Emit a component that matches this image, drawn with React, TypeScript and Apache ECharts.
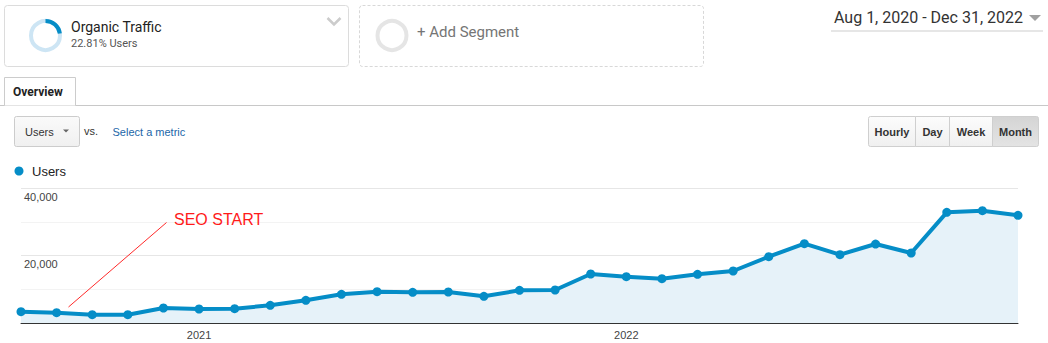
import React, { useEffect, useRef } from "react";
import * as echarts from "echarts";

const months = [
  "2020-08", "2020-09", "2020-10", "2020-11", "2020-12",
  "2021-01", "2021-02", "2021-03", "2021-04", "2021-05", "2021-06",
  "2021-07", "2021-08", "2021-09", "2021-10", "2021-11", "2021-12",
  "2022-01", "2022-02", "2022-03", "2022-04", "2022-05", "2022-06",
  "2022-07", "2022-08", "2022-09", "2022-10", "2022-11", "2022-12",
];
const users = [
  3350, 3050, 2460, 2460, 4440, 4150, 4250, 5240, 6720, 8490, 9280,
  9090, 9190, 7900, 9680, 9780, 14520, 13730, 13140, 14420, 15410,
  19650, 23500, 20250, 23400, 20740, 32790, 33280, 31900,
];
const yTickLabels = [20000, 40000];
const segmentName = "Organic Traffic";
const segmentShare = 22.81;
const dateRange = "Aug 1, 2020 - Dec 31, 2022";
const granularities = ["Hourly", "Day", "Week", "Month"];

const ARIAL = "'Liberation Sans', Arial, sans-serif";
const ROBOTO = "Roboto, 'Liberation Sans', Arial, sans-serif";

export default function App() {
  const ref = useRef<HTMLDivElement>(null);
  useEffect(() => {
    if (!ref.current) return;
    const chart = echarts.init(ref.current, null, { renderer: "svg" });
    const btnEdges = [868, 915, 949, 992, 1038];
    const buttons: any[] = [];
    granularities.forEach((g, i) => {
      const x0 = btnEdges[i];
      const x1 = btnEdges[i + 1];
      const active = i === granularities.length - 1;
      buttons.push({
        type: "rect",
        shape: { x: x0 + 0.5, y: 116.5, width: x1 - x0, height: 30, r: i === 0 ? [2, 0, 0, 2] : i === granularities.length - 1 ? [0, 2, 2, 0] : 0 },
        style: {
          fill: active
            ? new echarts.graphic.LinearGradient(0, 0, 0, 1, [
                { offset: 0, color: "#d4d4d4" },
                { offset: 1, color: "#e4e4e4" },
              ])
            : new echarts.graphic.LinearGradient(0, 0, 0, 1, [
                { offset: 0, color: "#fcfcfc" },
                { offset: 1, color: "#f0f0f0" },
              ]),
          stroke: "#cfcfcf",
          lineWidth: 1,
        },
      });
      buttons.push({
        type: "text",
        style: {
          x: (x0 + x1) / 2 + 0.5,
          y: 131.5,
          text: g,
          fill: "#333",
          font: `bold 11px ${ARIAL}`,
          align: "center",
          verticalAlign: "middle",
        },
      });
    });

    chart.setOption({
      animation: false,
      textStyle: { fontFamily: ARIAL },
      grid: { left: 21, right: 30, top: 188, bottom: 20, containLabel: false },
      xAxis: {
        type: "category",
        data: months,
        boundaryGap: false,
        axisLine: { lineStyle: { color: "#333", width: 1 } },
        axisTick: { show: false },
        axisLabel: {
          interval: 0,
          margin: 6,
          color: "#444",
          fontSize: 11,
          fontFamily: ARIAL,
          formatter: (v: string) => (v.endsWith("-01") ? v.slice(0, 4) : ""),
        },
        splitLine: { show: false },
      },
      yAxis: {
        type: "value",
        min: 0,
        max: 40000,
        interval: 10000,
        axisLine: { show: false },
        axisTick: { show: false },
        axisLabel: {
          inside: true,
          margin: 3,
          color: "#444",
          fontSize: 11,
          fontFamily: ARIAL,
          verticalAlign: "top",
          padding: [3, 0, 0, 0],
          formatter: (v: number) =>
            yTickLabels.includes(v) ? v.toLocaleString("en-US") : "",
        },
        splitLine: { lineStyle: { color: ["#e6e6e6", "#f3f3f3"], width: 1 } },
      },
      series: [
        {
          type: "line",
          name: "Users",
          data: users,
          symbol: "circle",
          symbolSize: 9,
          showSymbol: true,
          lineStyle: { color: "#058dc7", width: 4 },
          itemStyle: { color: "#058dc7", borderWidth: 0 },
          areaStyle: { color: "#e6f2f9", opacity: 1 },
          z: 3,
        },
      ],
      graphic: [
        // segment box 1
        {
          type: "rect",
          shape: { x: 4.5, y: 5.5, width: 344, height: 61, r: 3 },
          style: { fill: "#fff", stroke: "#dcdcdc", lineWidth: 1 },
        },
        {
          type: "circle",
          shape: { cx: 45.5, cy: 35.5, r: 14.5 },
          style: { fill: "none", stroke: "#cde5f4", lineWidth: 4 },
        },
        {
          type: "arc",
          shape: {
            cx: 45.5,
            cy: 35.5,
            r: 14.5,
            startAngle: -Math.PI / 2,
            endAngle: -Math.PI / 2 + (segmentShare / 100) * Math.PI * 2,
            clockwise: true,
          },
          style: { fill: "none", stroke: "#058dc7", lineWidth: 4 },
        },
        {
          type: "text",
          style: { x: 71, y: 27, text: segmentName, fill: "#222", font: `14px ${ROBOTO}`, verticalAlign: "middle" },
        },
        {
          type: "text",
          style: { x: 71, y: 43.5, text: `${segmentShare}% Users`, fill: "#555", font: `11px ${ROBOTO}`, verticalAlign: "middle" },
        },
        {
          type: "polyline",
          shape: { points: [[327.5, 18], [334, 24.5], [340.5, 18]] },
          style: { stroke: "#cccccc", lineWidth: 2.5, fill: "none" },
        },
        // segment box 2
        {
          type: "rect",
          shape: { x: 359.5, y: 5.5, width: 344, height: 61, r: 3 },
          style: { fill: "#fff", stroke: "#d8d8d8", lineWidth: 1, lineDash: [3, 2] },
        },
        {
          type: "circle",
          shape: { cx: 392, cy: 35.5, r: 14.5 },
          style: { fill: "none", stroke: "#e5e5e5", lineWidth: 4 },
        },
        {
          type: "text",
          style: { x: 417, y: 32, text: "+ Add Segment", fill: "#757575", font: `15px ${ROBOTO}`, verticalAlign: "middle" },
        },
        // date range
        {
          type: "text",
          style: { x: 834, y: 17.5, text: dateRange, fill: "#333", font: `16px ${ROBOTO}`, verticalAlign: "middle" },
        },
        {
          type: "polygon",
          shape: { points: [[1029, 15], [1041, 15], [1035, 21]] },
          style: { fill: "#a0a0a0" },
        },
        {
          type: "line",
          shape: { x1: 831, y1: 31, x2: 1043, y2: 31 },
          style: { stroke: "#e6e6e6", lineWidth: 2 },
        },
        // tabs
        {
          type: "line",
          shape: { x1: 0, y1: 105.5, x2: 1048, y2: 105.5 },
          style: { stroke: "#c8c8c8", lineWidth: 1 },
        },
        {
          type: "polyline",
          shape: { points: [[4.5, 105.5], [4.5, 77.5], [75.5, 77.5], [75.5, 105.5]] },
          style: { stroke: "#cccccc", lineWidth: 1, fill: "#fff" },
        },
        {
          type: "text",
          style: { x: 13, y: 91.5, text: "Overview", fill: "#222", font: `bold 12px ${ROBOTO}`, verticalAlign: "middle" },
        },
        // metric selector
        {
          type: "rect",
          shape: { x: 14.5, y: 116.5, width: 65, height: 30, r: 2 },
          style: {
            fill: new echarts.graphic.LinearGradient(0, 0, 0, 1, [
              { offset: 0, color: "#fafafa" },
              { offset: 1, color: "#f0f0f0" },
            ]),
            stroke: "#cccccc",
            lineWidth: 1,
          },
        },
        {
          type: "text",
          style: { x: 25, y: 131.5, text: "Users", fill: "#333", font: `11px ${ARIAL}`, verticalAlign: "middle" },
        },
        {
          type: "polygon",
          shape: { points: [[63, 129.5], [69, 129.5], [66, 132.5]] },
          style: { fill: "#666" },
        },
        {
          type: "text",
          style: { x: 84, y: 131, text: "vs.", fill: "#333", font: `11px ${ARIAL}`, verticalAlign: "middle" },
        },
        {
          type: "text",
          style: { x: 112.5, y: 131.5, text: "Select a metric", fill: "#2266a8", font: `11px ${ARIAL}`, verticalAlign: "middle" },
        },
        ...buttons,
        // legend
        {
          type: "circle",
          shape: { cx: 19, cy: 171, r: 4.5 },
          style: { fill: "#058dc7" },
        },
        {
          type: "text",
          style: { x: 32, y: 171.5, text: "Users", fill: "#222", font: `13px ${ARIAL}`, verticalAlign: "middle" },
        },
        // annotation
        {
          type: "line",
          shape: { x1: 166.5, y1: 222.5, x2: 68.5, y2: 307 },
          style: { stroke: "#ff2a2a", lineWidth: 1 },
          z: 100,
        },
        {
          type: "text",
          style: { x: 174, y: 219.5, text: "SEO START", fill: "#ff1a1a", font: `16px ${ARIAL}`, verticalAlign: "middle" },
          z: 100,
        },
      ],
    });
    return () => chart.dispose();
  }, []);
  return (
    <div
      ref={ref}
      style={{ position: "absolute", left: 0, top: 0, width: 1048, height: 343, background: "#fff" }}
    />
  );
}
